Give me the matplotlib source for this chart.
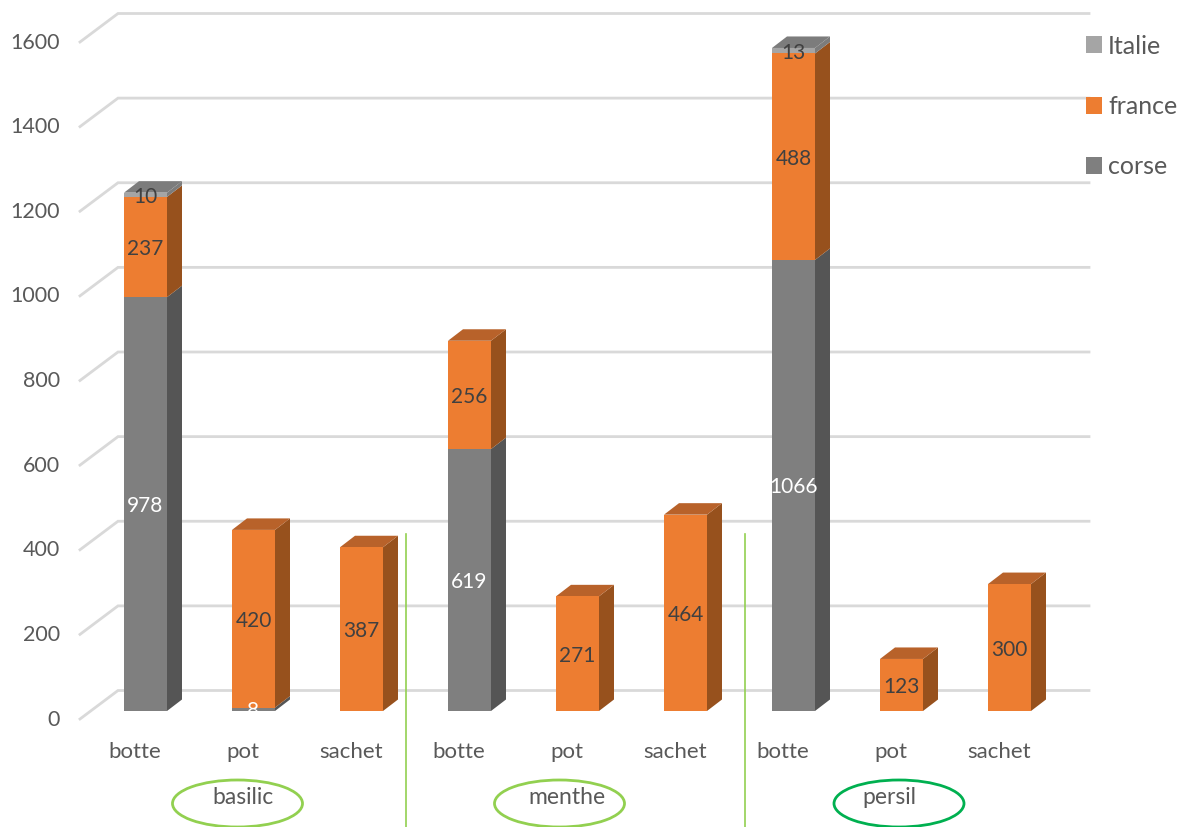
import matplotlib
matplotlib.use("Agg")
import matplotlib.pyplot as plt
from matplotlib.patches import Ellipse, Rectangle

categories = ["botte", "pot", "sachet", "botte", "pot", "sachet", "botte", "pot", "sachet"]
corse = [978, 8, 0, 619, 0, 0, 1066, 0, 0]
france = [237, 420, 387, 256, 271, 464, 488, 123, 300]
italie = [10, 0, 0, 0, 0, 0, 13, 0, 0]
groups = ["basilic", "menthe", "persil"]
y_ticks = [0, 200, 400, 600, 800, 1000, 1200, 1400, 1600]

plt.rcParams["font.family"] = ["Lato", "DejaVu Sans"]
plt.rcParams["font.size"] = 15

# the axes fill the figure, so pixel positions of the original convert to data
W, H = 1185, 827
X0, SLOT = 145.5, 108.0
Y0, SCALE = 711.0, 677 / 1600


def px(x):
    return (x - X0) / SLOT


def py(y):
    return (Y0 - y) / SCALE


fig = plt.figure(figsize=(W / 100, H / 100), dpi=100)
ax = fig.add_axes([0, 0, 1, 1])
ax.set_xlim(px(0), px(W))
ax.set_ylim(py(H), py(0))
ax.axis("off")

bar_w = 43 / SLOT
dx = 15 / SLOT
dy = 11.5 / SCALE

# floor and back wall lines
for t in y_ticks:
    ax.plot([px(80), px(118), px(1089)], [t - 8 / SCALE, t + 20.5 / SCALE, t + 20.5 / SCALE],
            color="#D9D9D9", lw=2, zorder=1, solid_joinstyle="miter")
    ax.text(px(60), t - 8.5 / SCALE, str(t), ha="right", va="center", color="#595959", fontsize=15.5)

series = [
    ("corse", corse, "#7F7F7F", "#555555", "#666666", "white"),
    ("france", france, "#ED7D31", "#97511D", "#B8622A", "#404040"),
    ("Italie", italie, "#A5A5A5", "#7C7C7C", "#7C7C7C", "#404040"),
]

handles = {}
bottoms = [0] * len(categories)
for name, values, front, side, top, txt in series:
    for i, v in enumerate(values):
        if v == 0:
            continue
        b = bottoms[i]
        right = i + bar_w / 2
        left = i - bar_w / 2
        ax.fill([right, right + dx, right + dx, right],
                [b, b + dy, b + v + dy, b + v], color=side, lw=0, zorder=3)
        is_top = all(s[1][i] == 0 for s in series[[x[0] for x in series].index(name) + 1:])
        if is_top:
            ax.fill([left, left + dx, right + dx, right],
                    [b + v, b + v + dy, b + v + dy, b + v], color=top, lw=0, zorder=3)
    handles[name] = ax.bar(range(len(categories)), values, bar_w, bottom=bottoms,
                           color=front, zorder=4, label=name)
    for i, v in enumerate(values):
        if v == 0:
            continue
        lab = ax.text(i, bottoms[i] + v / 2 - 2 / SCALE, str(v), ha="center", va="center",
                      color=txt, zorder=6)
        if v < 9:
            # the small value label gets cut by the base of the bar
            clip = Rectangle((i - bar_w / 2, 0), bar_w, 60, transform=ax.transData)
            lab.set_clip_path(clip)
    bottoms = [b + v for b, v in zip(bottoms, values)]

for i, c in enumerate(categories):
    ax.text(i - 10.5 / SLOT, py(751.5), c, ha="center", va="center", color="#595959", fontsize=16)

# separators between herbs
for x in [406, 745]:
    ax.plot([px(x), px(x)], [py(534), py(H)], color="#92D050", lw=1.2, zorder=7)

ell_x = [237.5, 559.5, 899]
ell_col = ["#92D050", "#92D050", "#00B050"]
lab_x = [243, 566.5, 889]
for g, ex, ec, lx in zip(groups, ell_x, ell_col, lab_x):
    ax.add_patch(Ellipse((px(ex), py(803.5)), 130 / SLOT, 47 / SCALE, fill=False,
                         edgecolor=ec, lw=2, zorder=7))
    ax.text(px(lx), py(797.5), g, ha="center", va="center", color="#595959", zorder=8, fontsize=16.5)

leg = ax.legend([handles["Italie"], handles["france"], handles["corse"]],
                ["Italie", "france", "corse"], loc="upper left",
                bbox_to_anchor=(1086 / W, 1 - 34.5 / H), frameon=False, fontsize=18,
                handlelength=0.62, handleheight=0.68, handletextpad=0.26,
                labelspacing=1.5, borderpad=0, borderaxespad=0, labelcolor="#595959")

fig.savefig("out.png", dpi=100)
